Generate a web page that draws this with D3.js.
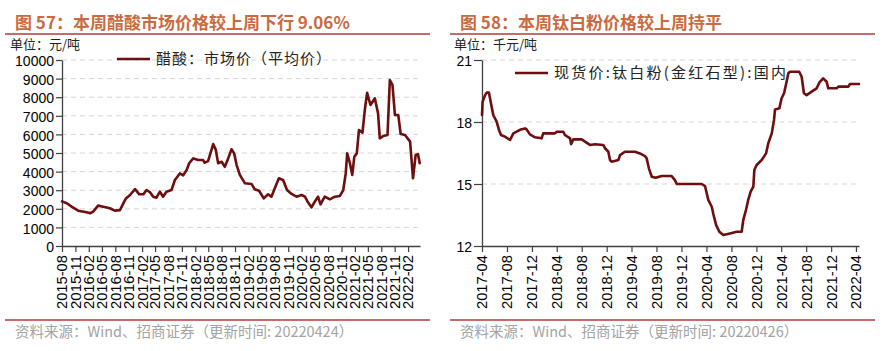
<!DOCTYPE html>
<html>
<head>
<meta charset="utf-8">
<script src="https://cdn.jsdelivr.net/npm/d3@7"></script>
<style>
  body { margin: 0; background: #fff; }
  svg { display: block; }
  .tick text { font-family: "Liberation Sans", Arial, sans-serif; fill: #000; }
</style>
</head>
<body>
<svg id="chart" width="893" height="351"></svg>
<script>
// ---- data: acetic acid market price (yuan/ton)
const acidDates = [
  '2015-08-01', '2015-09-03', '2015-10-06', '2015-11-20', '2016-01-17', '2016-02-10', '2016-03-02', '2016-04-05',
  '2016-05-10', '2016-06-25', '2016-07-28', '2016-09-02', '2016-09-25', '2016-10-13', '2016-11-10', '2016-12-14',
  '2017-01-13', '2017-02-10', '2017-03-03', '2017-03-26', '2017-04-18', '2017-05-11', '2017-06-03', '2017-06-25',
  '2017-07-18', '2017-08-22', '2017-09-14', '2017-10-18', '2017-11-10', '2017-12-04', '2017-12-21', '2018-01-18',
  '2018-02-22', '2018-03-26', '2018-04-07', '2018-04-30', '2018-06-04', '2018-06-22', '2018-07-08', '2018-08-01',
  '2018-08-23', '2018-09-15', '2018-10-08', '2018-10-26', '2018-11-12', '2018-12-04', '2019-01-08', '2019-02-23',
  '2019-03-16', '2019-04-15', '2019-05-17', '2019-06-16', '2019-07-09', '2019-08-01', '2019-08-29', '2019-09-27',
  '2019-10-24', '2019-11-24', '2019-12-28', '2020-02-01', '2020-02-24', '2020-03-16', '2020-04-09', '2020-05-01',
  '2020-05-24', '2020-06-10', '2020-07-09', '2020-08-13', '2020-09-17', '2020-10-21', '2020-11-13', '2020-11-30',
  '2020-12-10', '2020-12-29', '2021-01-14', '2021-01-28', '2021-02-14', '2021-03-01', '2021-03-25', '2021-04-10',
  '2021-04-26', '2021-05-19', '2021-06-18', '2021-07-10', '2021-07-22', '2021-08-14', '2021-09-13', '2021-09-29',
  '2021-10-17', '2021-11-03', '2021-11-26', '2021-12-12', '2022-01-11', '2022-02-15', '2022-03-07', '2022-03-25',
  '2022-04-10', '2022-04-22'
];
const acidPrices = [
  2400, 2300, 2120, 1900, 1810, 1760, 1850, 2170,
  2110, 2030, 1900, 1930, 2290, 2560, 2740, 3060,
  2780, 2780, 3010, 2900, 2650, 2600, 2920, 2650,
  2920, 3010, 3550, 3900, 3800, 4090, 4450, 4710,
  4620, 4620, 4480, 4560, 5480, 5170, 4450, 4530,
  4260, 4710, 5200, 4980, 4350, 3820, 3370, 3330,
  3050, 2970, 2560, 2780, 2650, 3100, 3640, 3550,
  3010, 2800, 2650, 2740, 2650, 2350, 2080, 2380,
  2650, 2240, 2650, 2510, 2650, 2690, 3010, 3900,
  4980, 4450, 3820, 4800, 4980, 6240, 6090, 7310,
  8240, 7580, 7940, 7130, 5790, 5910, 5970, 8920,
  8660, 7040, 7040, 6020, 5970, 5610, 3640, 4890,
  4940, 4450
];
const acidTicks = [
  '2015-08', '2015-11', '2016-02', '2016-05', '2016-08', '2016-11', '2017-02', '2017-05', '2017-08',
  '2017-11', '2018-02', '2018-05', '2018-08', '2018-11', '2019-02', '2019-05', '2019-08', '2019-11',
  '2020-02', '2020-05', '2020-08', '2020-11', '2021-02', '2021-05', '2021-08', '2021-11', '2022-02'
];
const acidYTicks = [0, 1000, 2000, 3000, 4000, 5000, 6000, 7000, 8000, 9000, 10000];

// ---- data: titanium dioxide (rutile) spot price, domestic (thousand yuan/ton)
const tioDates = [
  '2017-04-01', '2017-04-04', '2017-04-07', '2017-04-16', '2017-04-24', '2017-05-05', '2017-05-15', '2017-05-26',
  '2017-06-12', '2017-06-23', '2017-07-03', '2017-07-22', '2017-08-16', '2017-09-01', '2017-09-17', '2017-10-08',
  '2017-10-28', '2017-11-05', '2017-11-21', '2017-12-16', '2018-01-17', '2018-01-25', '2018-03-23', '2018-04-01',
  '2018-05-03', '2018-05-11', '2018-06-05', '2018-06-10', '2018-06-21', '2018-08-01', '2018-08-17', '2018-09-10',
  '2018-10-05', '2018-11-14', '2018-11-23', '2018-12-09', '2018-12-17', '2018-12-25', '2019-01-27', '2019-02-04',
  '2019-02-28', '2019-04-18', '2019-05-12', '2019-06-06', '2019-06-14', '2019-06-25', '2019-07-09', '2019-07-28',
  '2019-08-26', '2019-10-14', '2019-10-30', '2019-11-08', '2020-03-09', '2020-03-25', '2020-04-10', '2020-04-27',
  '2020-05-04', '2020-05-18', '2020-06-03', '2020-06-22', '2020-07-25', '2020-08-27', '2020-09-20', '2020-09-28',
  '2020-10-11', '2020-10-22', '2020-11-03', '2020-11-16', '2020-11-21', '2020-12-02', '2020-12-27', '2021-01-17',
  '2021-01-28', '2021-02-14', '2021-02-25', '2021-03-02', '2021-03-23', '2021-04-03', '2021-04-15', '2021-04-24',
  '2021-05-06', '2021-05-14', '2021-06-28', '2021-07-10', '2021-07-21', '2021-08-03', '2021-08-28', '2021-09-21',
  '2021-10-04', '2021-10-23', '2021-11-09', '2021-11-17', '2021-12-28', '2022-01-05', '2022-02-23', '2022-03-03',
  '2022-04-16'
];
const tioPrices = [
  18.34, 18.98, 19.06, 19.30, 19.42, 19.42, 18.90, 18.34,
  18.01, 17.61, 17.37, 17.29, 17.13, 17.45, 17.53, 17.64,
  17.69, 17.64, 17.40, 17.26, 17.21, 17.45, 17.45, 17.53,
  17.53, 17.37, 17.21, 16.93, 17.16, 17.16, 17.05, 16.89,
  16.92, 16.89, 16.73, 16.56, 16.16, 16.08, 16.16, 16.40,
  16.56, 16.56, 16.48, 16.35, 16.24, 15.76, 15.35, 15.30,
  15.39, 15.39, 15.19, 15.00, 15.00, 14.90, 14.23, 13.90,
  13.58, 13.02, 12.69, 12.53, 12.61, 12.69, 12.69, 13.26,
  13.74, 14.23, 14.63, 14.87, 15.68, 15.92, 16.16, 16.48,
  16.97, 17.45, 18.10, 18.61, 18.66, 19.15, 19.39, 19.79,
  20.36, 20.43, 20.43, 20.19, 19.39, 19.30, 19.47, 19.63,
  19.90, 20.11, 19.95, 19.63, 19.63, 19.71, 19.71, 19.84,
  19.84
];
const tioTicks = [
  '2017-04', '2017-08', '2017-12', '2018-04', '2018-08', '2018-12', '2019-04', '2019-08',
  '2019-12', '2020-04', '2020-08', '2020-12', '2021-04', '2021-08', '2021-12', '2022-04'
];
const tioYTicks = [12, 15, 18, 21];

const parseDay = d3.timeParse('%Y-%m-%d');
const parseMonth = d3.timeParse('%Y-%m');
const fmtMonth = d3.timeFormat('%Y-%m');

const svg = d3.select('#chart');
const lineColor = '#6e0e0e';
const cjk = '"Noto Sans CJK SC", "Noto Sans", sans-serif';

const drawPanel = (opt) => {
  const g = svg.append('g');

  // title + header rule
  g.append('text')
    .attr('x', opt.left + 10)
    .attr('y', 29)
    .style('font-family', cjk)
    .style('font-weight', 'bold')
    .style('font-size', '17px')
    .style('fill', '#c96a3f')
    .text(opt.title);
  g.append('line')
    .attr('x1', opt.left).attr('x2', opt.left + 425)
    .attr('y1', 34).attr('y2', 34)
    .attr('stroke', '#b23a3a').attr('stroke-width', 1.5);

  // footer rule + source
  g.append('line')
    .attr('x1', opt.left).attr('x2', opt.left + 425)
    .attr('y1', 320).attr('y2', 320)
    .attr('stroke', '#b23a3a').attr('stroke-width', 1.5);
  g.append('text')
    .attr('x', opt.left + 10)
    .attr('y', 337)
    .style('font-family', cjk)
    .style('font-size', '14.5px')
    .style('fill', '#a3a3a3')
    .text(opt.source);

  const x = d3.scaleTime().domain(opt.xDomain).range([opt.x0, opt.x1]);
  const y = d3.scaleLinear().domain(opt.yDomain).range([246, 60]);

  // dashed gridlines
  g.append('g')
    .selectAll('line')
    .data(opt.yTicks.slice(1))
    .enter().append('line')
    .attr('x1', opt.x0).attr('x2', opt.x1)
    .attr('y1', d => y(d)).attr('y2', d => y(d))
    .attr('stroke', '#d6d6d6')
    .attr('stroke-width', 1)
    .attr('stroke-dasharray', '5,4');

  // y axis
  const yAxis = g.append('g')
    .attr('transform', `translate(${opt.x0},0)`)
    .call(d3.axisLeft(y).tickValues(opt.yTicks).tickFormat(d3.format('d'))
      .tickSize(opt.yTickSize).tickPadding(2).tickSizeOuter(0));
  yAxis.selectAll('text').attr('dy', '0.4em').style('font-size', '14px');

  // x axis
  const xAxis = g.append('g')
    .attr('transform', 'translate(0,246)')
    .call(d3.axisBottom(x).tickValues(opt.xTicks.map(parseMonth)).tickFormat(fmtMonth).tickSize(6).tickSizeOuter(0));
  xAxis.selectAll('text')
    .attr('transform', 'rotate(-90)')
    .attr('x', -9)
    .attr('y', 0)
    .attr('dy', '0.35em')
    .attr('text-anchor', 'end')
    .attr('textLength', 54)
    .attr('lengthAdjust', 'spacingAndGlyphs')
    .style('font-size', '14px');

  [yAxis, xAxis].forEach(a => {
    a.select('.domain').attr('stroke', '#404040').attr('stroke-width', 1.3);
    a.selectAll('.tick line').attr('stroke', '#404040').attr('stroke-width', 1.2);
  });

  // series line
  const pts = opt.dates.map((d, i) => [parseDay(d), opt.values[i]]);
  g.append('path')
    .datum(pts)
    .attr('fill', 'none')
    .attr('stroke', lineColor)
    .attr('stroke-width', 2.6)
    .attr('stroke-linejoin', 'round')
    .attr('stroke-linecap', 'round')
    .attr('d', d3.line().x(d => x(d[0])).y(d => y(d[1])));

  // unit label, squeezed between the title and the top tick label
  g.append('text')
    .attr('x', opt.unitX)
    .attr('y', 49)
    .style('font-family', cjk)
    .style('font-size', '13px')
    .style('fill', '#222')
    .text(opt.unit);

  // legend
  g.append('line')
    .attr('x1', opt.legX).attr('x2', opt.legX + 33)
    .attr('y1', opt.legY).attr('y2', opt.legY)
    .attr('stroke', lineColor).attr('stroke-width', 2.6);
  g.append('text')
    .attr('x', opt.legX + 39)
    .attr('y', opt.legY + 5)
    .attr('textLength', opt.legLen)
    .attr('lengthAdjust', 'spacing')
    .style('font-family', cjk)
    .style('font-size', '15px')
    .style('fill', '#222')
    .text(opt.legend);
};

drawPanel({
  left: 5,
  title: '图 57：本周醋酸市场价格较上周下行 9.06%',
  source: '资料来源：Wind、招商证券（更新时间: 20220424）',
  unit: '单位：元/吨',
  unitX: 10,
  legend: '醋酸：市场价（平均价）',
  legX: 117, legY: 59, legLen: 175,
  x0: 62, x1: 420,
  xDomain: [parseDay('2015-08-01'), parseDay('2022-04-24')],
  yDomain: [0, 10000],
  yTicks: acidYTicks,
  yTickSize: 6,
  xTicks: acidTicks,
  dates: acidDates,
  values: acidPrices
});

drawPanel({
  left: 450,
  title: '图 58：本周钛白粉价格较上周持平',
  source: '资料来源：Wind、招商证券（更新时间: 20220426）',
  unit: '单位：千元/吨',
  unitX: 454,
  legend: '现货价:钛白粉(金红石型):国内',
  legX: 515, legY: 73, legLen: 232,
  x0: 482, x1: 859,
  xDomain: [parseDay('2017-04-01'), parseDay('2022-04-16')],
  yDomain: [12, 21],
  yTicks: tioYTicks,
  yTickSize: 8,
  xTicks: tioTicks,
  dates: tioDates,
  values: tioPrices
});
</script>
</body>
</html>
